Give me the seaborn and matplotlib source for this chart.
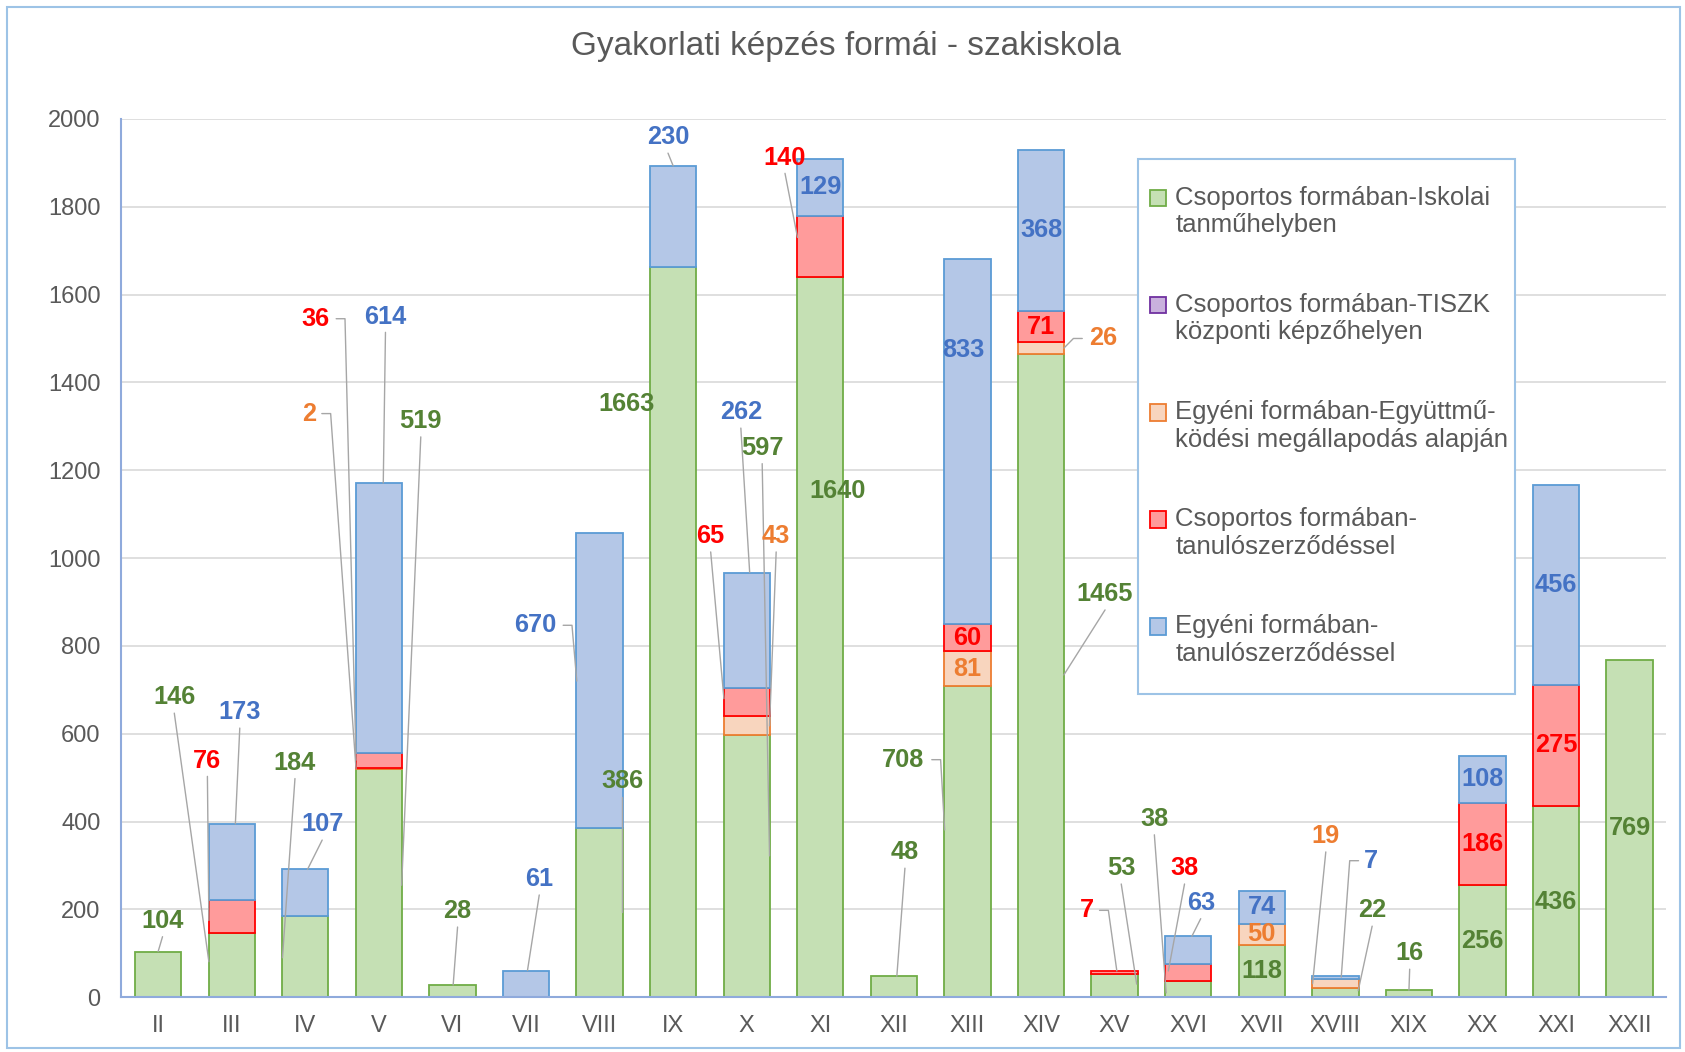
import numpy as np
import pandas as pd
import matplotlib
matplotlib.use("Agg")
import matplotlib.pyplot as plt
from matplotlib.patches import Patch, Rectangle
import seaborn as sns

# --- data ---
categories = ["II", "III", "IV", "V", "VI", "VII", "VIII", "IX", "X", "XI", "XII",
              "XIII", "XIV", "XV", "XVI", "XVII", "XVIII", "XIX", "XX", "XXI", "XXII"]
iskolai = [104, 146, 184, 519, 28, 0, 386, 1663, 597, 1640, 48,
           708, 1465, 53, 38, 118, 22, 16, 256, 436, 769]
tiszk = [0] * 21
egyuttmukodesi = [0, 0, 0, 2, 0, 0, 0, 0, 43, 0, 0,
                  81, 26, 0, 0, 50, 19, 0, 0, 0, 0]
csop_tanulo = [0, 76, 0, 36, 0, 0, 0, 0, 65, 140, 0,
               60, 71, 7, 38, 0, 0, 0, 186, 275, 0]
egyeni_tanulo = [0, 173, 107, 614, 0, 61, 670, 230, 262, 129, 0,
                 833, 368, 0, 63, 74, 7, 0, 108, 456, 0]

series_names = ["Csoportos formában-Iskolai\ntanműhelyben",
                "Csoportos formában-TISZK\nközponti képzőhelyen",
                "Egyéni formában-Együttmű-\nködési megállapodás alapján",
                "Csoportos formában-\ntanulószerződéssel",
                "Egyéni formában-\ntanulószerződéssel"]

# stacking order bottom -> top: key, values, face, edge, label colour
series = [
    ("g", iskolai, "#C5E0B4", "#70AD47", "#548235"),
    ("p", tiszk, "#C9B1DD", "#7030A0", "#7030A0"),
    ("o", egyuttmukodesi, "#F8D5BE", "#ED7D31", "#ED7D31"),
    ("r", csop_tanulo, "#FF9B9B", "#FF0000", "#FF0000"),
    ("b", egyeni_tanulo, "#B4C7E7", "#5B9BD5", "#4472C4"),
]

# data label placement (offset from category, y) and leader line end
label_pos = {
    ("II", "g"): ("line", 0.06, 174, 0.0, 104),
    ("III", "g"): ("line", -0.78, 683, -0.31, 81),
    ("III", "r"): ("line", -0.33, 539, -0.31, 175),
    ("III", "b"): ("line", 0.11, 649, 0.05, 395),
    ("IV", "g"): ("line", -0.14, 534, -0.31, 90),
    ("IV", "b"): ("line", 0.23, 394, 0.03, 291),
    ("V", "r"): ("elbowR", -0.86, 1545, -0.31, 540),
    ("V", "o"): ("elbowR", -0.95, 1329, -0.31, 520),
    ("V", "b"): ("line", 0.09, 1550, 0.06, 1171),
    ("V", "g"): ("line", 0.57, 1312, 0.31, 255),
    ("VI", "g"): ("line", 0.07, 196, 0.01, 28),
    ("VII", "b"): ("line", 0.18, 269, 0.02, 61),
    ("VIII", "b"): ("elbowR", -0.88, 847, -0.31, 720),
    ("VIII", "g"): ("line", 0.31, 492, 0.31, 194),
    ("IX", "b"): ("line", -0.07, 1958, 0.0, 1893),
    ("IX", "g"): ("free", -0.63, 1351),
    ("X", "r"): ("line", -0.49, 1050, -0.31, 680),
    ("X", "b"): ("line", -0.08, 1332, 0.04, 967),
    ("X", "g"): ("line", 0.21, 1251, 0.31, 322),
    ("X", "o"): ("line", 0.40, 1050, 0.31, 618),
    ("XI", "r"): ("line", -0.48, 1912, -0.31, 1730),
    ("XI", "g"): ("free", 0.24, 1153),
    ("XII", "g"): ("line", 0.15, 330, 0.04, 48),
    ("XIII", "g"): ("elbowR", -0.87, 541, -0.31, 381),
    ("XIII", "b"): ("free", -0.06, 1474),
    ("XIV", "g"): ("line", 0.87, 918, 0.31, 734),
    ("XIV", "o"): ("elbowL", 0.84, 1500, 0.31, 1478),
    ("XV", "r"): ("elbowR", -0.38, 198, 0.03, 60),
    ("XV", "g"): ("line", 0.09, 294, 0.30, 30),
    ("XVI", "g"): ("line", -0.46, 406, -0.30, 10),
    ("XVI", "r"): ("line", -0.05, 294, -0.27, 60),
    ("XVI", "b"): ("line", 0.17, 215, 0.05, 139),
    ("XVIII", "o"): ("line", -0.13, 367, -0.31, 31),
    ("XVIII", "b"): ("elbowL", 0.49, 311, 0.08, 46),
    ("XVIII", "g"): ("line", 0.50, 198, 0.31, 15),
    ("XIX", "g"): ("line", 0.01, 100, 0.0, 16),
}

sns.set_style("white")
plt.rcParams["font.family"] = ["Liberation Sans", "DejaVu Sans"]

fig = plt.figure(figsize=(16.85, 10.52), dpi=100)
ax = fig.add_axes([0.072, 0.052, 0.917, 0.835])

bottom = np.zeros(len(categories))
bottoms = {}
for key, vals, face, edge, _ in series:
    vals = np.array(vals, dtype=float)
    sns.barplot(x=categories, y=vals, order=categories, color=face,
                edgecolor=edge, linewidth=1.3, bottom=bottom, width=0.63,
                errorbar=None, saturation=1, ax=ax)
    for bar, v in zip(ax.containers[-1], vals):
        if v == 0:
            bar.set_visible(False)
    bottoms[key] = bottom.copy()
    bottom = bottom + vals

lead = "#A6A6A6"
for key, vals, face, edge, tcol in series:
    for ci, cat in enumerate(categories):
        v = vals[ci]
        if v == 0:
            continue
        spec = label_pos.get((cat, key), ("center",))
        if spec[0] == "center":
            lx, ly = ci, bottoms[key][ci] + v / 2
        else:
            lx, ly = ci + spec[1], spec[2]
        ax.text(lx, ly, str(v), ha="center", va="center", color=tcol,
                fontsize=18.3, fontweight="bold", zorder=5)
        if spec[0] == "line":
            ax.plot([lx, ci + spec[3]], [ly - 36, spec[4]], color=lead, lw=1, zorder=4)
        elif spec[0].startswith("elbow"):
            s = 1 if spec[0] == "elbowR" else -1
            x1 = lx + s * (len(str(v)) * 0.105 + 0.07)
            x2 = x1 + s * 0.12
            ax.plot([x1, x2, ci + spec[3]], [ly, ly, spec[4]], color=lead, lw=1, zorder=4)

ax.set_xlim(-0.5, 20.5)
ax.set_ylim(0, 2000)
ax.set_yticks(range(0, 2001, 200))
ax.yaxis.grid(True, color="#D9D9D9", lw=1.2)
ax.set_axisbelow(True)
ax.set_xlabel("")
ax.set_ylabel("")
for side in ["top", "right"]:
    ax.spines[side].set_visible(False)
for side in ["left", "bottom"]:
    ax.spines[side].set_color("#8FAADC")
    ax.spines[side].set_linewidth(1.5)
ax.tick_params(axis="both", length=0, labelsize=17, labelcolor="#595959")
ax.tick_params(axis="y", pad=15)
ax.tick_params(axis="x", pad=13)

# legend box drawn separately so the padding can differ per side
ax.add_patch(Rectangle((0.658, 0.345), 0.244, 0.609, transform=ax.transAxes,
                       facecolor="white", edgecolor="#9DC3E6", lw=1.5, zorder=6))
handles = [Patch(facecolor=f, edgecolor=e, lw=1.3) for _, _, f, e, _ in series]
leg = ax.legend(handles, series_names, loc="upper left", bbox_to_anchor=(0.666, 0.924),
                borderaxespad=0, frameon=False, fontsize=18.5, labelspacing=2.15,
                handlelength=0.62, handleheight=0.62, handletextpad=0.35,
                borderpad=0, labelcolor="#595959")
leg.set_zorder(7)
for h in leg.legend_handles:
    h.set_y(h.get_y() + 10)

fig.text(0.502, 0.956, "Gyakorlati képzés formái - szakiskola", ha="center", va="center",
         fontsize=24, color="#595959")
fig.add_artist(Rectangle((0.004, 0.004), 0.993, 0.989, transform=fig.transFigure,
                         fill=False, edgecolor="#9DC3E6", lw=1.5))

fig.savefig("out.png", dpi=100)
